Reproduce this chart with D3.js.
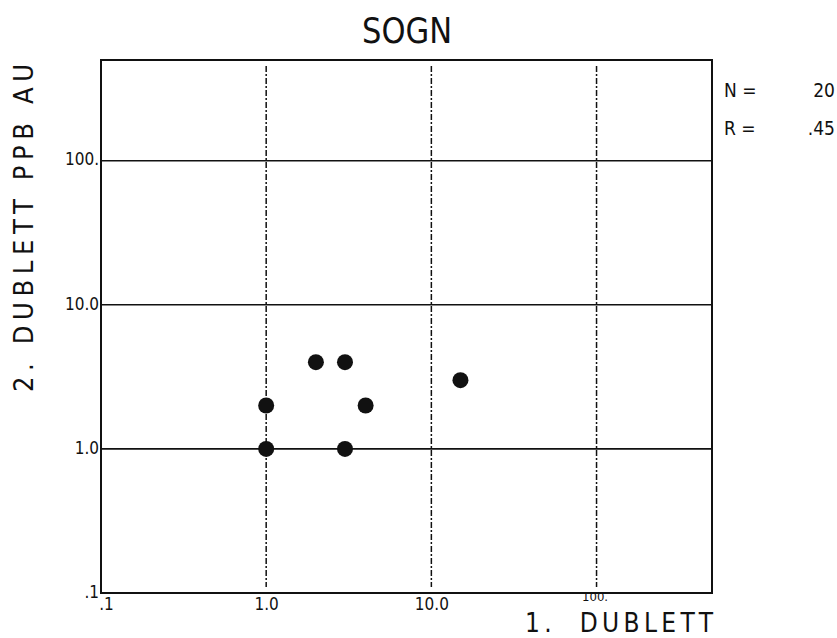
<!DOCTYPE html>
<html><head><meta charset="utf-8">
<script src="https://cdn.jsdelivr.net/npm/d3@7"></script>
<style>body{margin:0;background:#fff} text.pre{white-space:pre}</style>
</head><body>
<svg id="c" width="837" height="638"></svg>
<script>
const xVals = [1.0, 1.0, 2.0, 3.0, 4.0, 3.0, 15.0];
const yVals = [1.0, 2.0, 4.0, 4.0, 2.0, 1.0, 3.0];
const xTicks = [0.1, 1, 10, 100];
const xTickLabels = [".1", "1.0", "10.0", "100."];
const yTicks = [0.1, 1, 10, 100];
const yTickLabels = [".1", "1.0", "10.0", "100."];
const statLabels = ["N =", "R ="];
const statValues = ["20", ".45"];

const svg = d3.select("#c");
const L = 101, R = 712, T = 60, B = 593;
const x = d3.scaleLog().domain([0.1, 500]).range([L, R]);
const y = d3.scaleLog().domain([0.1, 500]).range([B, T]);
const font = "'DejaVu Sans Condensed', 'DejaVu Sans', sans-serif";

// grid
svg.append("g").selectAll("line").data(yTicks.slice(1)).join("line")
  .attr("x1", L).attr("x2", R).attr("y1", d => y(d)).attr("y2", d => y(d))
  .attr("stroke", "#111").attr("stroke-width", 1.6);
svg.append("g").selectAll("line").data(xTicks.slice(1)).join("line")
  .attr("x1", d => x(d)).attr("x2", d => x(d)).attr("y1", T + 6).attr("y2", B - 6)
  .attr("stroke", "#111").attr("stroke-width", 1.5).attr("stroke-dasharray", "6,2,2,2");

// frame
svg.append("rect").attr("x", L).attr("y", T).attr("width", R - L).attr("height", B - T)
  .attr("fill", "none").attr("stroke", "#111").attr("stroke-width", 2);

// tick labels via d3 axes
const xAxis = d3.axisBottom(x).tickValues(xTicks).tickFormat((d, i) => xTickLabels[i]).tickSize(0).tickPadding(5);
const gx = svg.append("g").attr("transform", `translate(0,${B})`).call(xAxis);
gx.select(".domain").remove();
gx.selectAll("text").attr("font-family", font).attr("font-size", 17).attr("fill", "#111")
  .attr("dx", (d, i) => i === 0 ? 5 : (i === 3 ? -2 : 0));
gx.selectAll(".tick").filter((d, i) => i === 3).select("text").attr("font-size", 13).attr("dy", "0.25em");

const yAxis = d3.axisLeft(y).tickValues(yTicks).tickFormat((d, i) => yTickLabels[i]).tickSize(0).tickPadding(2);
const gy = svg.append("g").attr("transform", `translate(${L},0)`).call(yAxis);
gy.select(".domain").remove();
gy.selectAll("text").attr("font-family", font).attr("font-size", 17).attr("fill", "#111").attr("dy", "0.25em");

// points
svg.append("g").selectAll("circle").data(xVals).join("circle")
  .attr("cx", (d) => x(d)).attr("cy", (d, i) => y(yVals[i])).attr("r", 8).attr("fill", "#111");

// title
svg.append("text").attr("x", 407).attr("y", 43).attr("text-anchor", "middle")
  .attr("font-family", font).attr("font-size", 35).attr("textLength", 90).attr("lengthAdjust", "spacingAndGlyphs")
  .attr("fill", "#111").text("SOGN");

// axis titles
svg.append("text").attr("transform", "translate(33,228) rotate(-90)").attr("text-anchor", "middle")
  .attr("font-family", font).attr("font-size", 27).attr("textLength", 328).attr("lengthAdjust", "spacing")
  .attr("fill", "#111").text("2. DUBLETT PPB AU");
svg.append("text").attr("class", "pre").attr("x", 619).attr("y", 632).attr("text-anchor", "middle")
  .attr("font-family", font).attr("font-size", 26).attr("textLength", 188).attr("lengthAdjust", "spacing")
  .attr("fill", "#111").text("1.  DUBLETT");

// stats
svg.append("g").selectAll("text").data(statLabels).join("text")
  .attr("x", 724).attr("y", (d, i) => 97 + i * 38)
  .attr("font-family", font).attr("font-size", 19).attr("fill", "#111").text(d => d);
svg.append("g").selectAll("text").data(statValues).join("text")
  .attr("x", 835).attr("y", (d, i) => 97 + i * 38).attr("text-anchor", "end")
  .attr("font-family", font).attr("font-size", 19).attr("fill", "#111").text(d => d);
</script>
</body></html>
